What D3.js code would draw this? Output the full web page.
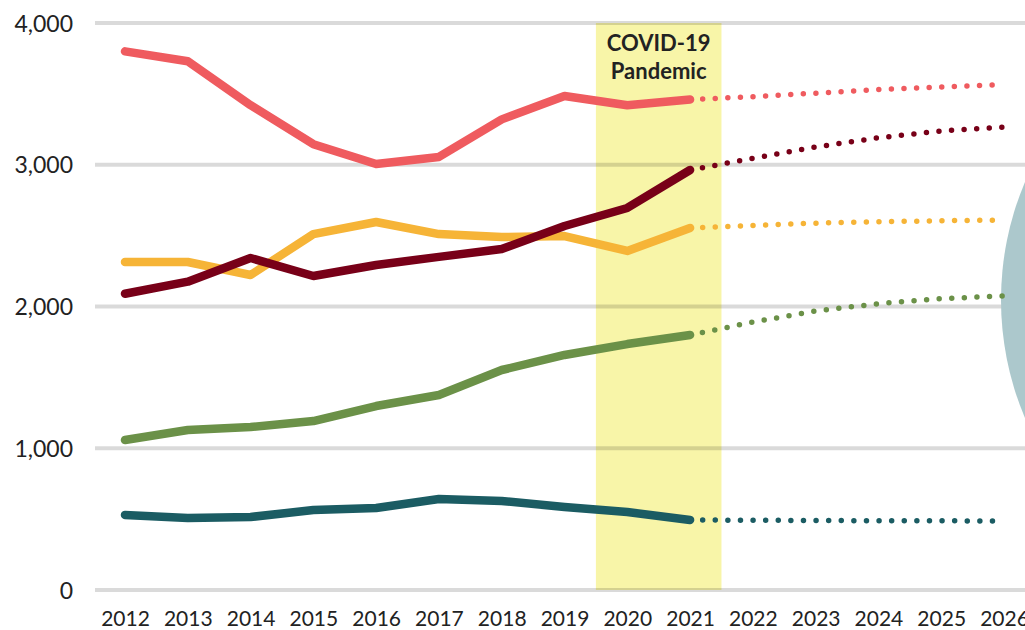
<!DOCTYPE html>
<html><head><meta charset="utf-8">
<script src="https://cdn.jsdelivr.net/npm/d3@7"></script>
<style>
html,body{margin:0;padding:0;background:#fff;overflow:hidden}
svg{display:block}
text{font-family:Lato,"Open Sans",sans-serif;fill:#222}
</style></head>
<body><svg id="c" width="1025" height="630"></svg>
<script>
const years = [2012,2013,2014,2015,2016,2017,2018,2019,2020,2021];
const projYears = [2021,2022,2023,2024,2025,2026];
const xTicks = [2012,2013,2014,2015,2016,2017,2018,2019,2020,2021,2022,2023,2024,2025,2026];
const yTicks = [0,1000,2000,3000,4000];

const redActual    = [3800,3730,3420,3145,3005,3055,3320,3485,3420,3460];
const redProj      = [3460,3480,3505,3530,3548,3565];
const maroonActual = [2090,2175,2342,2215,2293,2350,2405,2568,2695,2963];
const maroonProj   = [2963,3045,3125,3190,3238,3266];
const orangeActual = [2314,2314,2222,2511,2596,2511,2490,2497,2392,2554];
const orangeProj   = [2554,2572,2588,2598,2605,2610];
const greenActual  = [1058,1129,1150,1192,1298,1376,1552,1658,1735,1799];
const greenProj    = [1799,1890,1968,2020,2055,2075];
const tealActual   = [529,508,515,564,578,642,628,586,550,494];
const tealProj     = [494,492,490,489,488,487];

const series = [
  {name:"teal",   color:"#1b5c63", a:tealActual,   p:tealProj},
  {name:"green",  color:"#6b9148", a:greenActual,  p:greenProj},
  {name:"orange", color:"#f6b437", a:orangeActual, p:orangeProj},
  {name:"maroon", color:"#780018", a:maroonActual, p:maroonProj},
  {name:"red",    color:"#ef5b5f", a:redActual,    p:redProj}
];

const svg = d3.select("#c");
const x = d3.scaleLinear().domain([2012,2026]).range([125,1004]);
const y = d3.scaleLinear().domain([0,4000]).range([590,23]);

// covid band
svg.append("rect")
  .attr("x",x(2019.5)).attr("width",x(2021.5)-x(2019.5))
  .attr("y",y(4000)).attr("height",y(0)-y(4000))
  .attr("fill","#f8f5a8");

// y axis labels
const yAxis = d3.axisLeft(y).tickValues(yTicks).tickFormat(d3.format(",")).tickSize(0).tickPadding(0);
const gy = svg.append("g").attr("transform","translate(73,0)").call(yAxis);
gy.select(".domain").remove();
gy.selectAll("text").style("font-size","23px").attr("dy","0.35em").attr("fill","#222");

// gridlines
svg.append("g").selectAll("line").data(yTicks).join("line")
  .attr("x1",95).attr("x2",1025).attr("y1",d=>y(d)).attr("y2",d=>y(d))
  .attr("stroke","rgba(0,0,0,0.145)").attr("stroke-width",4);

// partial circle at right edge (on top of gridlines)
svg.append("circle").attr("cx",1303).attr("cy",y(2046)).attr("r",302).attr("fill","#acc8cc");

// x axis labels
const xAxis = d3.axisBottom(x).tickValues(xTicks).tickFormat(d3.format("d")).tickSize(0).tickPadding(0);
const gx = svg.append("g").attr("transform","translate(0,619)").call(xAxis);
gx.select(".domain").remove();
gx.selectAll("text").style("font-size","21px").attr("dy","0.35em").attr("fill","#222");

// label
const lab = svg.append("text").attr("text-anchor","middle").style("font-weight","bold").style("font-size","22px");
lab.append("tspan").attr("x",x(2020.5)).attr("y",51).text("COVID-19");
lab.append("tspan").attr("x",x(2020.5)).attr("y",79).text("Pandemic");

const line = d3.line().x(d=>x(d[0])).y(d=>y(d[1]));
series.forEach(s=>{
  svg.append("path").datum(projYears.map((yr,i)=>[yr,s.p[i]]))
    .attr("d",line).attr("fill","none").attr("stroke",s.color)
    .attr("stroke-width",5.5).attr("stroke-linecap","round")
    .attr("stroke-dasharray","0 12.6").attr("stroke-dashoffset",-12.6);
  svg.append("path").datum(years.map((yr,i)=>[yr,s.a[i]]))
    .attr("d",line).attr("fill","none").attr("stroke",s.color)
    .attr("stroke-width",8.5).attr("stroke-linecap","round").attr("stroke-linejoin","round");
});
</script></body></html>
